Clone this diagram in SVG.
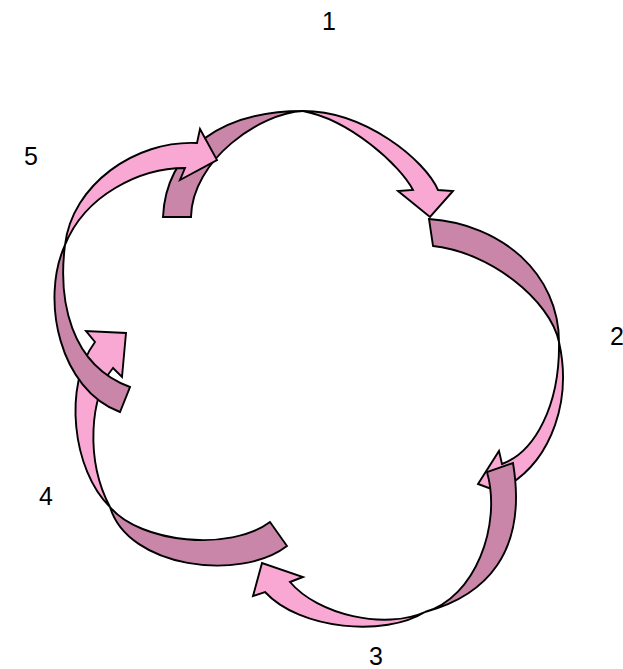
<svg xmlns="http://www.w3.org/2000/svg" width="623" height="669" viewBox="0 0 623 669">
<style>
.back{fill:#C986A8;stroke:#000;stroke-width:1.9;stroke-linejoin:miter}
.front{fill:#F9A8D4;stroke:#000;stroke-width:1.9;stroke-linejoin:miter}
.lbl{font-family:"Liberation Sans",Arial,sans-serif;font-size:25px;fill:#000;text-anchor:middle}
</style>
<rect width="623" height="669" fill="#fff"/>
<g id="arrow1">
<path class="back" d="M163,217 C166,150 222,111 303,111 C260,113 192,160 191,217 Z"/>
<path class="front" d="M303,111 C365,111 425,160 438,190 L453,191 L430,217 L398,191 L413,190 C400,165 350,120 303,111 Z"/>
</g>
<g id="arrow2">
<path class="back" d="M429,219 C502,224 559,274 559,342 C550,300 490,252 433,246 Z"/>
<path class="front" d="M559,342 C572,400 552,458 509,485 L513,497 L478,484 L499,451 L502,464 C535,452 560,405 559,342 Z"/>
</g>
<g id="arrow3">
<path class="back" d="M513,463 C528,553 485,596 425,612 C475,598 502,525 487,472 Z"/>
<path class="front" d="M425,612 C385,637 300,630 265,592 L253,596 L262,563 L303,577 L290,582 C318,615 385,630 425,612 Z"/>
</g>
<g id="arrow4">
<path class="back" d="M287,546 C240,582 128,568 110,507 C140,543 230,552 270,522 Z"/>
<path class="front" d="M110,507 C72,470 63,385 95,342 L86,331 L126,333 L122,377 L113,368 C90,395 85,460 110,507 Z"/>
</g>
<g id="arrow5">
<path class="back" d="M120,412 C60,390 40,300 65,245 C58,300 70,365 130,387 Z"/>
<path class="front" d="M65,245 C72,185 135,140 197,143 L200,129 L217,160 L180,180 L185,168 C140,168 85,195 65,245 Z"/>
</g>
<g id="labels">
<text class="lbl" x="329" y="30">1</text>
<text class="lbl" x="617" y="345">2</text>
<text class="lbl" x="376" y="665">3</text>
<text class="lbl" x="46" y="505">4</text>
<text class="lbl" x="31" y="165">5</text>
</g>
</svg>
